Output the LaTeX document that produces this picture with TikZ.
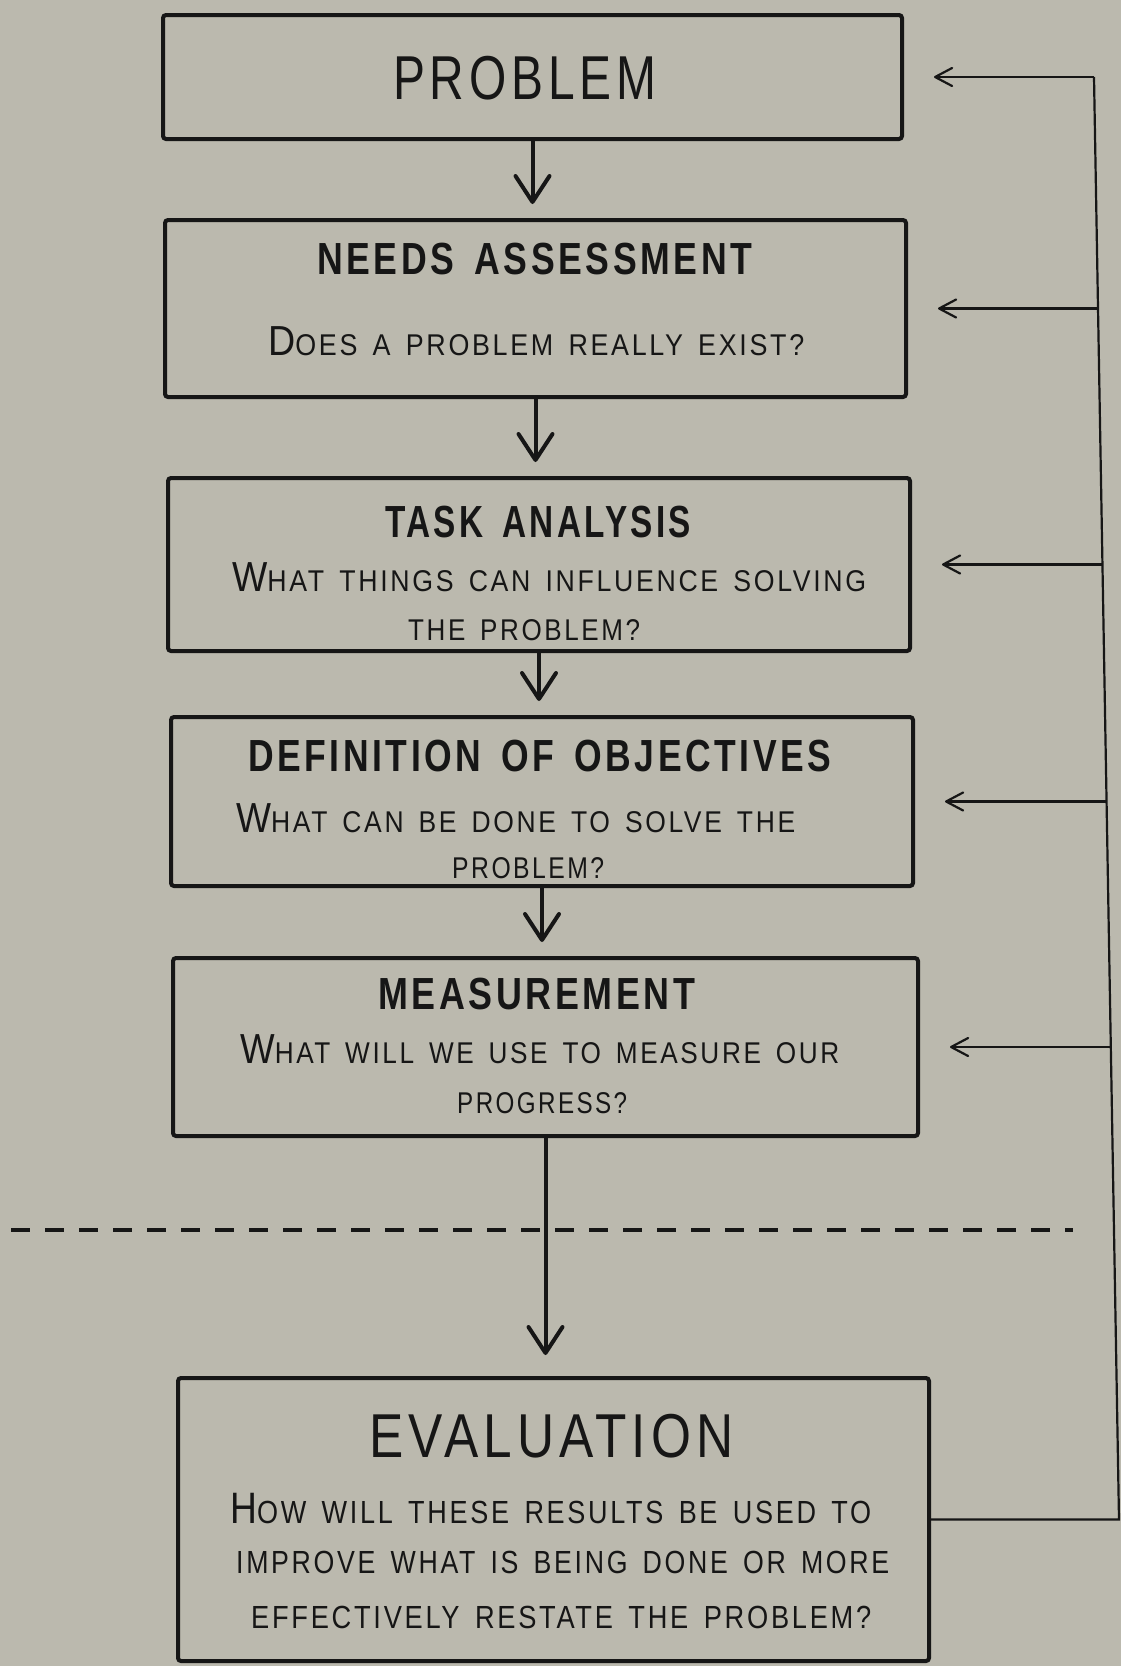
\documentclass[tikz,border=0pt]{standalone}
\usepackage{fontspec}
\setmainfont{Liberation Sans}[LetterSpace=10,WordSpace=1.5]
\usepackage{graphicx}
\usetikzlibrary{arrows.meta,calc}
\definecolor{paper}{RGB}{187,185,174}
\definecolor{ink}{RGB}{22,22,22}
\newcommand\fitw[2]{\resizebox{#1pt}{\height}{#2}}
\newcommand\smc[1]{{\fontsize{30}{30}\selectfont #1}}
\newcommand\bgc[1]{{\fontsize{42}{42}\selectfont #1}}
\newcommand\sme[1]{{\fontsize{32}{32}\selectfont #1}}
\newcommand\bge[1]{{\fontsize{44}{44}\selectfont #1}}
\newcommand\ttl[1]{{\fontsize{45}{45}\selectfont\bfseries #1}}
\newcommand\hge[1]{{\fontsize{62}{62}\selectfont #1}}
\begin{document}
\begin{tikzpicture}[x=1pt,y=-1pt,
  box/.style={draw=ink, line width=4pt, rounded corners=3pt, inner sep=0pt},
  txt/.style={inner sep=0pt, anchor=base west, text=ink},
  dn/.style={draw=ink, line width=4pt, shorten >=14pt,
    -{Straight Barb[length=26pt,width=34pt,round]}},
  fb/.style={draw=ink, line width=2.2pt, shorten >=30pt,
    -{Straight Barb[length=17pt,width=18pt,round]}},
  fbline/.style={draw=ink, line width=2.2pt}]
\fill[paper] (0,0) rectangle (1121,1666);
\useasboundingbox (0,0) rectangle (1121,1666);

% boxes
\node[box, minimum width=739pt, minimum height=124pt] (prob) at (532.5,77) {};
\node[box, minimum width=741pt, minimum height=177pt] (needs) at (535.5,308.5) {};
\node[box, minimum width=742pt, minimum height=173pt] (task) at (539,564.5) {};
\node[box, minimum width=742pt, minimum height=169pt] (def) at (542,801.5) {};
\node[box, minimum width=745pt, minimum height=178pt] (meas) at (545.5,1047) {};
\node[box, minimum width=751pt, minimum height=283pt] (eval) at (553.5,1519.5) {};

% texts
\node[txt] (tprob) at (393,99) {\fitw{263}{\hge{PROBLEM}}};

\node[txt] (tneeds) at (317,274) {\fitw{435}{\ttl{NEEDS ASSESSMENT}}};
\node[txt] (sneeds) at (268,355) {\fitw{536}{\bgc{D}\smc{OES A PROBLEM REALLY EXIST?}}};

\node[txt] (ttask) at (385,537) {\fitw{306}{\ttl{TASK ANALYSIS}}};
\node[txt] (stask1) at (232,591) {\fitw{634}{\bgc{W}\smc{HAT THINGS CAN INFLUENCE SOLVING}}};
\node[txt] (stask2) at (408,640) {\fitw{232}{\smc{THE PROBLEM?}}};

\node[txt] (tdef) at (248,771) {\fitw{583}{\ttl{DEFINITION OF OBJECTIVES}}};
\node[txt] (sdef1) at (236,832) {\fitw{559}{\bgc{W}\smc{HAT CAN BE DONE TO SOLVE THE}}};
\node[txt] (sdef2) at (452,878) {\fitw{152}{\smc{PROBLEM?}}};

\node[txt] (tmeas) at (378,1009) {\fitw{317}{\ttl{MEASUREMENT}}};
\node[txt] (smeas1) at (240,1063) {\fitw{599}{\bgc{W}\smc{HAT WILL WE USE TO MEASURE OUR}}};
\node[txt] (smeas2) at (457,1113) {\fitw{170}{\smc{PROGRESS?}}};

\node[txt] (teval) at (369,1457) {\fitw{364}{\hge{EVALUATION}}};
\node[txt] (seval1) at (230,1523) {\fitw{641}{\bge{H}\sme{OW WILL THESE RESULTS BE USED TO}}};
\node[txt] (seval2) at (236,1573) {\fitw{653}{\sme{IMPROVE WHAT IS BEING DONE OR MORE}}};
\node[txt] (seval3) at (251,1628) {\fitw{620}{\sme{EFFECTIVELY RESTATE THE PROBLEM?}}};

% downward connectors
\draw[dn] (prob.south) -- (prob.south |- needs.north);
\draw[dn] (needs.south) -- (needs.south |- task.north);
\draw[dn] (task.south) -- (task.south |- def.north);
\draw[dn] (def.south) -- (def.south |- meas.north);
\draw[dn, shorten >=21pt] (meas.south) -- (meas.south |- eval.north);

% dashed divider
\coordinate (dl) at (11,1230);
\coordinate (dr) at (1073,1230);
\draw[ink, line width=4pt, dash pattern=on 19pt off 15pt] (dl) -- (dr);

% feedback loop
\coordinate (c1) at (1094,77);
\coordinate (c2) at (1098,308.5);
\coordinate (c3) at (1102.5,564.5);
\coordinate (c4) at (1106.6,801.5);
\coordinate (c5) at (1110.8,1047);
\coordinate (c6) at (1119,1519.5);
\draw[fbline] (eval.east) -- (c6) -- (c1);
\draw[fb] (c1) -- (prob.east);
\draw[fb] (c2) -- (needs.east);
\draw[fb] (c3) -- (task.east);
\draw[fb] (c4) -- (def.east);
\draw[fb] (c5) -- (meas.east);
\end{tikzpicture}
\end{document}
